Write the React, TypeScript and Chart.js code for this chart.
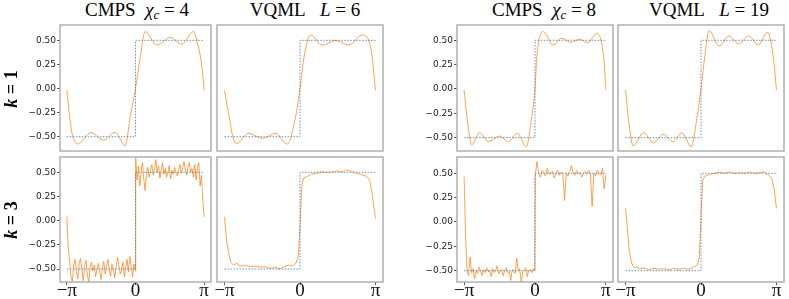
import React, { useEffect, useRef } from "react";
import { Chart, registerables } from "chart.js";
Chart.register(...registerables);

const PI = Math.PI;
const xTickValues = [-PI, 0, PI];
const xTickLabels = ["−π", "0", "π"];
const yTickValues = [-0.5, -0.25, 0, 0.25, 0.5];
const yTickLabels = ["−0.50", "−0.25", "0.00", "0.25", "0.50"];

const targetX = [-PI, 0, 0, PI];
const targetY = [-0.5, -0.5, 0.5, 0.5];

// k = 1, CMPS chi_c = 4
const cmps4k1X = [-PI, -3.03, -2.91, -2.65, -2.04, -1.46, -0.93, -0.47, -0.24, 0, 0.22, 0.44, 0.98, 1.59, 2.12, 2.65, 2.88, 3.04, PI];
const cmps4k1Y = [-0.02, -0.26, -0.46, -0.576, -0.458, -0.534, -0.455, -0.593, -0.29, 0, 0.33, 0.59, 0.45, 0.53, 0.46, 0.59, 0.43, 0.23, -0.02];
// k = 1, VQML L = 6
const vqml6k1X = [-PI, -2.95, -2.8, -2.64, -2.15, -1.56, -1.01, -0.53, -0.18, 0, 0.17, 0.44, 0.93, 1.48, 2.03, 2.59, 2.86, 3.0, PI];
const vqml6k1Y = [-0.02, -0.29, -0.5, -0.57, -0.465, -0.517, -0.465, -0.576, -0.29, 0, 0.33, 0.555, 0.45, 0.5, 0.45, 0.555, 0.5, 0.33, -0.02];
// k = 1, CMPS chi_c = 8
const cmps8k1X = [-PI, -3.02, -2.8, -2.46, -2.06, -1.57, -1.18, -0.78, -0.39, -0.14, 0, 0.08, 0.38, 0.79, 1.19, 1.59, 1.97, 2.33, 2.74, 3.04, PI];
const cmps8k1Y = [-0.01, -0.28, -0.575, -0.449, -0.541, -0.483, -0.541, -0.455, -0.592, -0.28, 0, 0.33, 0.588, 0.452, 0.52, 0.48, 0.51, 0.475, 0.57, 0.33, -0.01];
// k = 1, VQML L = 19
const vqml19k1X = [-PI, -3.0, -2.83, -2.39, -1.98, -1.57, -1.16, -0.79, -0.41, -0.17, 0, 0.15, 0.34, 0.75, 1.16, 1.57, 1.98, 2.39, 2.76, 3.0, PI];
const vqml19k1Y = [-0.01, -0.35, -0.585, -0.449, -0.551, -0.466, -0.541, -0.449, -0.592, -0.3, 0, 0.32, 0.599, 0.44, 0.545, 0.462, 0.545, 0.452, 0.582, 0.35, -0.01];

// k = 3, CMPS chi_c = 4 (sampled on even grids, left half then right half)
const cmps4k3Left = [0.04, -0.27, -0.42, -0.58, -0.63, -0.46, -0.40, -0.53, -0.60, -0.44, -0.39, -0.51, -0.62, -0.47, -0.41, -0.56, -0.64, -0.48, -0.43, -0.52, -0.46, -0.58, -0.50, -0.44, -0.53, -0.61, -0.49, -0.42, -0.55, -0.47, -0.40, -0.52, -0.57, -0.45, -0.50, -0.59, -0.48, -0.38, -0.46, -0.55, -0.51, -0.43, -0.58, -0.49, -0.40, -0.53, -0.37, -0.47, -0.58, -0.45, -0.52];
const cmps4k3Right = [0.65, 0.42, 0.56, 0.36, 0.50, 0.60, 0.43, 0.31, 0.48, 0.55, 0.45, 0.52, 0.58, 0.47, 0.53, 0.63, 0.50, 0.56, 0.44, 0.52, 0.60, 0.48, 0.54, 0.45, 0.50, 0.57, 0.43, 0.52, 0.48, 0.55, 0.50, 0.46, 0.53, 0.58, 0.49, 0.55, 0.61, 0.52, 0.47, 0.56, 0.60, 0.50, 0.54, 0.45, 0.58, 0.42, 0.55, 0.60, 0.36, 0.47, 0.21, 0.04];
// k = 3, VQML L = 6
const vqml6k3X = [-PI, -3.06, -2.97, -2.88, -2.77, -2.63, -2.49, -2.28, -2.07, -1.87, -1.66, -1.45, -1.24, -1.04, -0.83, -0.65, -0.48, -0.32, -0.17, -0.07, 0, 0.07, 0.14, 0.28, 0.48, 0.69, 0.9, 1.11, 1.31, 1.52, 1.73, 1.94, 2.14, 2.35, 2.56, 2.77, 2.9, 3.0, PI];
const vqml6k3Y = [0.04, -0.2, -0.34, -0.43, -0.46, -0.44, -0.47, -0.46, -0.475, -0.47, -0.48, -0.476, -0.493, -0.483, -0.497, -0.476, -0.46, -0.47, -0.44, -0.37, -0.06, 0.35, 0.44, 0.455, 0.48, 0.49, 0.507, 0.497, 0.503, 0.514, 0.503, 0.524, 0.507, 0.49, 0.476, 0.46, 0.42, 0.28, 0.024];
// k = 3, CMPS chi_c = 8
const cmps8k3Left = [0.465, -0.15, -0.50, -0.55, -0.36, -0.52, -0.48, -0.58, -0.50, -0.53, -0.46, -0.50, -0.55, -0.49, -0.52, -0.47, -0.51, -0.50, -0.56, -0.48, -0.52, -0.50, -0.45, -0.53, -0.50, -0.49, -0.55, -0.50, -0.47, -0.52, -0.51, -0.60, -0.49, -0.50, -0.53, -0.37, -0.50, -0.48, -0.63, -0.51, -0.50, -0.47, -0.56, -0.50, -0.49, -0.52, -0.48, -0.50];
const cmps8k3Right = [0.47, 0.62, 0.50, 0.46, 0.53, 0.50, 0.47, 0.55, 0.49, 0.50, 0.52, 0.45, 0.50, 0.53, 0.48, 0.51, 0.50, 0.22, 0.50, 0.47, 0.52, 0.58, 0.50, 0.48, 0.53, 0.49, 0.51, 0.46, 0.50, 0.52, 0.49, 0.53, 0.50, 0.16, 0.50, 0.47, 0.53, 0.50, 0.48, 0.55, 0.34, 0.48];
// k = 3, VQML L = 19
const vqml19k3X = [-PI, -3.06, -2.99, -2.89, -2.78, -2.69, -2.58, -2.37, -2.17, -1.96, -1.76, -1.55, -1.34, -1.14, -0.93, -0.73, -0.52, -0.32, -0.14, -0.07, 0, 0.07, 0.16, 0.37, 0.58, 0.78, 0.99, 1.19, 1.4, 1.6, 1.81, 2.02, 2.22, 2.43, 2.63, 2.8, 2.94, 3.05, PI];
const vqml19k3Y = [0.14, -0.08, -0.29, -0.42, -0.47, -0.46, -0.48, -0.47, -0.49, -0.476, -0.486, -0.48, -0.49, -0.476, -0.486, -0.476, -0.486, -0.466, -0.44, -0.36, 0.05, 0.43, 0.47, 0.49, 0.5, 0.51, 0.5, 0.514, 0.5, 0.507, 0.5, 0.514, 0.5, 0.507, 0.514, 0.483, 0.45, 0.33, 0.14];

const zip = (xs: number[], ys: number[]) => xs.map((x, i) => ({ x, y: ys[i] }));
const spread = (a: number, b: number, vals: number[]) =>
  vals.map((v, i) => ({ x: a + ((b - a) * i) / (vals.length - 1), y: v }));

type Cfg = {
  l: number; t: number; w: number; h: number;
  showY: boolean; showX: boolean; yMin: number; yMax: number;
  points: { x: number; y: number }[]; smooth: boolean;
};

const framePlugin = {
  id: "frame",
  afterDatasetsDraw(chart: any) {
    const { ctx, chartArea: a } = chart;
    ctx.save();
    ctx.strokeStyle = "#b0b0b0";
    ctx.lineWidth = 1.5;
    ctx.strokeRect(a.left, a.top, a.right - a.left, a.bottom - a.top);
    ctx.restore();
  },
};

const zeroPad = (s: any) => {
  s.paddingTop = 0;
  s.paddingBottom = 0;
  s.paddingLeft = 0;
  s.paddingRight = 0;
};

function Panel({ cfg }: { cfg: Cfg }) {
  const ref = useRef<HTMLCanvasElement>(null);
  const { l, t, w, h, showY, showX, yMin, yMax, points, smooth } = cfg;
  const leftW = showY ? 40 : 0;
  const bottomH = showX ? 18 : 0;
  const pad = 2;
  const cw = leftW + w + 2 * pad;
  const ch = h + bottomH + 2 * pad;
  useEffect(() => {
    const chart = new Chart(ref.current as HTMLCanvasElement, {
      type: "line",
      data: {
        datasets: [
          {
            data: zip(targetX, targetY),
            borderColor: "rgba(31,119,180,0.75)",
            borderWidth: 1,
            borderDash: [1.5, 1.5],
            pointRadius: 0,
            tension: 0,
          },
          {
            data: points,
            borderColor: "rgba(255,127,14,0.72)",
            borderWidth: 1,
            pointRadius: 0,
            tension: 0,
            cubicInterpolationMode: smooth ? "monotone" : "default",
          },
        ],
      },
      options: {
        responsive: false,
        animation: false,
        devicePixelRatio: 1,
        layout: { padding: pad },
        plugins: { legend: { display: false }, tooltip: { enabled: false } },
        scales: {
          x: {
            type: "linear",
            min: -1.1 * PI,
            max: 1.1 * PI,
            display: showX,
            afterFit: (s: any) => { s.height = bottomH; zeroPad(s); },
            afterBuildTicks: (s: any) => { s.ticks = xTickValues.map((v) => ({ value: v })); },
            ticks: {
              callback: (_v: any, i: number) => xTickLabels[i],
              font: { family: "Liberation Serif", size: 19 },
              color: "#111",
              padding: -5,
              autoSkip: false,
              maxRotation: 0,
            },
            grid: { display: true, drawOnChartArea: false, drawTicks: true, tickLength: 3, color: "#555" },
            border: { display: false },
          },
          y: {
            type: "linear",
            min: yMin,
            max: yMax,
            display: showY,
            afterFit: (s: any) => { s.width = leftW; zeroPad(s); },
            afterBuildTicks: (s: any) => { s.ticks = yTickValues.map((v) => ({ value: v })); },
            ticks: {
              callback: (_v: any, i: number) => yTickLabels[i],
              font: { family: "DejaVu Sans", size: 9 },
              color: "#222",
              padding: 1,
              autoSkip: false,
            },
            grid: { display: true, drawOnChartArea: false, drawTicks: true, tickLength: 3, color: "#555" },
            border: { display: false },
          },
        },
      },
      plugins: [framePlugin],
    } as any);
    return () => chart.destroy();
  }, []);
  return (
    <canvas
      ref={ref}
      width={cw}
      height={ch}
      style={{ position: "absolute", left: l - leftW - pad, top: t - pad, width: cw, height: ch }}
    />
  );
}

const serif = '"Liberation Serif", "DejaVu Serif", serif';

function Title({ cx, children }: { cx: number; children: React.ReactNode }) {
  return (
    <div
      style={{
        position: "absolute", left: cx, top: 0, transform: "translateX(-50%)",
        font: `19px ${serif}`, lineHeight: "20px", whiteSpace: "nowrap", color: "#000",
      }}
    >
      {children}
    </div>
  );
}

function RowLabel({ cy, n }: { cy: number; n: string }) {
  return (
    <div
      style={{
        position: "absolute", left: 11, top: cy, transform: "translate(-50%,-50%) rotate(-90deg)",
        font: `bold 18px ${serif}`, lineHeight: "20px", whiteSpace: "nowrap",
      }}
    >
      <i>k</i> = {n}
    </div>
  );
}

const subStyle = { fontSize: 13, verticalAlign: "-3px", lineHeight: 0 };

const topT = 25, topH = 126, botT = 157, botH = 125;

const panels: Cfg[] = [
  { l: 60, t: topT, w: 151, h: topH, showY: true, showX: false, yMin: -0.648, yMax: 0.659, points: zip(cmps4k1X, cmps4k1Y), smooth: true },
  { l: 217, t: topT, w: 166, h: topH, showY: false, showX: false, yMin: -0.648, yMax: 0.659, points: zip(vqml6k1X, vqml6k1Y), smooth: true },
  { l: 457, t: topT, w: 156, h: topH, showY: true, showX: false, yMin: -0.637, yMax: 0.657, points: zip(cmps8k1X, cmps8k1Y), smooth: true },
  { l: 618, t: topT, w: 166, h: topH, showY: false, showX: false, yMin: -0.637, yMax: 0.657, points: zip(vqml19k1X, vqml19k1Y), smooth: true },
  { l: 60, t: botT, w: 151, h: botH, showY: true, showX: true, yMin: -0.634, yMax: 0.658, points: [...spread(-PI, -0.01, cmps4k3Left), ...spread(0.01, PI, cmps4k3Right)], smooth: false },
  { l: 217, t: botT, w: 166, h: botH, showY: false, showX: true, yMin: -0.634, yMax: 0.658, points: zip(vqml6k3X, vqml6k3Y), smooth: false },
  { l: 457, t: botT, w: 156, h: botH, showY: true, showX: true, yMin: -0.616, yMax: 0.667, points: [...spread(-PI, -0.01, cmps8k3Left), ...spread(0.01, PI, cmps8k3Right)], smooth: false },
  { l: 618, t: botT, w: 166, h: botH, showY: false, showX: true, yMin: -0.616, yMax: 0.667, points: zip(vqml19k3X, vqml19k3Y), smooth: false },
];

export default function App() {
  return (
    <div style={{ position: "absolute", left: 0, top: 0, width: 789, height: 299, background: "#fff", overflow: "hidden" }}>
      {panels.map((p, i) => <Panel key={i} cfg={p} />)}
      <Title cx={137}>CMPS&nbsp;&nbsp;<i>χ<sub style={subStyle}>c</sub></i> = 4</Title>
      <Title cx={305}>VQML&nbsp;&nbsp;&nbsp;<i>L</i> = 6</Title>
      <Title cx={544}>CMPS&nbsp;&nbsp;<i>χ<sub style={subStyle}>c</sub></i> = 8</Title>
      <Title cx={709}>VQML&nbsp;&nbsp;&nbsp;<i>L</i> = 19</Title>
      <RowLabel cy={89} n="1" />
      <RowLabel cy={220} n="3" />
    </div>
  );
}
